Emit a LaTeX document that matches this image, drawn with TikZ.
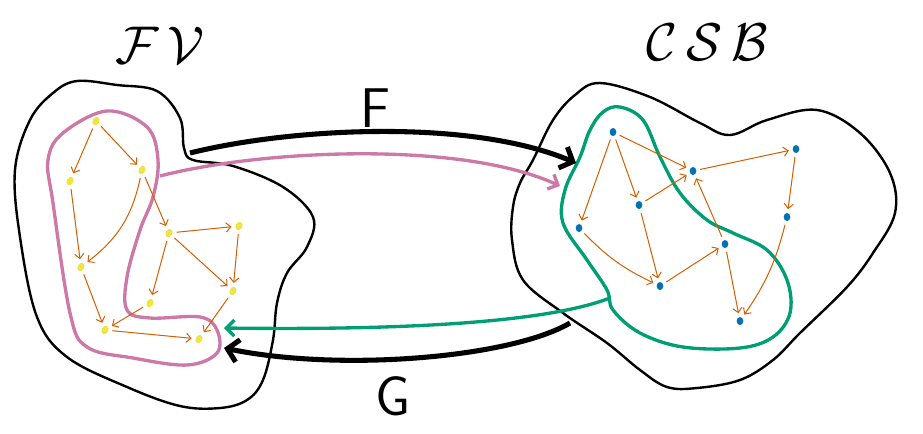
\documentclass[tikz,border=0pt]{standalone}
\usetikzlibrary{arrows.meta,shapes.geometric}
\definecolor{edgeorange}{HTML}{D55E00}
\definecolor{dotyellow}{HTML}{F0E442}
\definecolor{dotblue}{HTML}{0072B2}
\definecolor{loopink}{HTML}{CC79A7}
\definecolor{loopgreen}{HTML}{009E73}
\tikzset{
  fv dot/.style={ellipse,fill=dotyellow,minimum width=6.5pt,minimum height=5pt,inner sep=0pt,outer sep=3pt,rotate=60},
  csb dot/.style={ellipse,fill=dotblue,minimum width=5pt,minimum height=6pt,inner sep=0pt,outer sep=3pt},
  cat edge/.style={-{Straight Barb[length=3.5pt,width=7pt]},draw=edgeorange,line width=0.75pt},
  blob line/.style={line width=1.8pt,line join=round},
  image loop/.style={line width=2.5pt,line join=round},
  functor arrow/.style={line width=3.8pt,-{Straight Barb[length=8pt,width=17pt]}},
  image arrow/.style={line width=2.5pt,-{Straight Barb[length=6pt,width=12pt]}},
  big label/.style={font=\Huge,scale=1.6},
  arrow label/.style={font=\fontsize{42}{48}\selectfont\sffamily},
}
\begin{document}
\begin{tikzpicture}[x=0.75pt,y=-0.75pt]
  \useasboundingbox (0,0) rectangle (923,433);
  \draw[blob line] plot[smooth cycle,tension=0.6] coordinates {
    (77,81) (117,85) (157,91) (180,118) (184,148) (193,160) (233,166) (283,187)
    (313,217) (307,247) (287,273) (277,303) (273,340) (263,380) (247,400)
    (220,408) (180,406) (127,387) (67,357) (37,317) (20,237) (15,170) (30,120) (53,93)};
  \draw[blob line] plot[smooth cycle,tension=0.6] coordinates {
    (600,83) (650,97) (700,123) (730,135) (767,120) (817,110) (860,133) (890,173)
    (895,213) (873,253) (847,287) (800,333) (773,360) (740,380) (697,388)
    (667,387) (640,370) (607,343) (563,313) (523,280) (512,240) (513,207)
    (520,183) (533,160) (553,120) (575,95)};
  \draw[image loop,loopink] plot[smooth cycle,tension=0.6] coordinates {
    (107,111) (147,127) (158,160) (153,197) (140,230) (127,277) (127,310)
    (150,318) (200,317) (217,330) (217,353) (187,365) (133,358) (87,347)
    (70,313) (53,203) (48,160) (63,133)};
  \draw[image loop,loopgreen] plot[smooth cycle,tension=0.6] coordinates {
    (620,107) (643,120) (660,157) (680,193) (707,220) (733,233) (767,250)
    (787,280) (790,313) (773,337) (740,348) (683,347) (640,333) (613,310)
    (607,290) (587,260) (563,223) (565,190) (580,157) (590,130) (603,112)};
  \foreach \n/\x/\y in {1/96/121,2/142/170,3/70/181,4/169/233,5/239/226,
                        6/81/267,7/233/291,8/150/303,9/105/330,10/199/339}{
    \node[fv dot] (f\n) at (\x,\y) {};
  }
  \foreach \a/\b in {1/3,1/2,3/6,2/4,4/5,4/8,4/7,5/7,6/9,8/9,9/10,7/10}{
    \draw[cat edge] (f\a) -- (f\b);
  }
  \draw[cat edge] (f2) to[bend left=20] (f6);
  \foreach \n/\x/\y in {1/613/132,2/693/171,3/796/149,4/639/205,5/579/228,
                        6/787/217,7/725/244,8/660/286,9/740/321}{
    \node[csb dot] (c\n) at (\x,\y) {};
  }
  \foreach \a/\b in {1/2,1/4,1/5,4/2,4/8,8/7,7/2,7/9,2/3,3/6}{
    \draw[cat edge] (c\a) -- (c\b);
  }
  \draw[cat edge] (c5) to[bend right=10] (c8);
  \draw[cat edge] (c6) to[bend left=10] (c9);
  \coordinate (fstart) at (190,153);
  \coordinate (fend) at (576,163);
  \coordinate (pstart) at (160,176);
  \coordinate (pend) at (560,186);
  \coordinate (gstart) at (570,323);
  \coordinate (gend) at (224,348);
  \coordinate (qstart) at (610,298);
  \coordinate (qend) at (224,328);
  \draw[functor arrow] (fstart) .. controls (290,128) and (470,118) .. (fend);
  \draw[image arrow,loopink] (pstart) .. controls (260,150) and (460,140) .. (pend);
  \draw[image arrow,loopgreen] (qstart) .. controls (540,325) and (380,330) .. (qend);
  \draw[functor arrow] (gstart) .. controls (510,358) and (340,372) .. (gend);
  \node[arrow label] (flabel) at (375,108) {F};
  \node[arrow label] (glabel) at (393,396) {G};
  \node[big label] (fvlabel) at (160,45) {$\mathcal{F}\,\mathcal{V}$};
  \node[big label] (csblabel) at (707,42) {$\mathcal{C}\,\mathcal{S}\,\mathcal{B}$};
\end{tikzpicture}
\end{document}
